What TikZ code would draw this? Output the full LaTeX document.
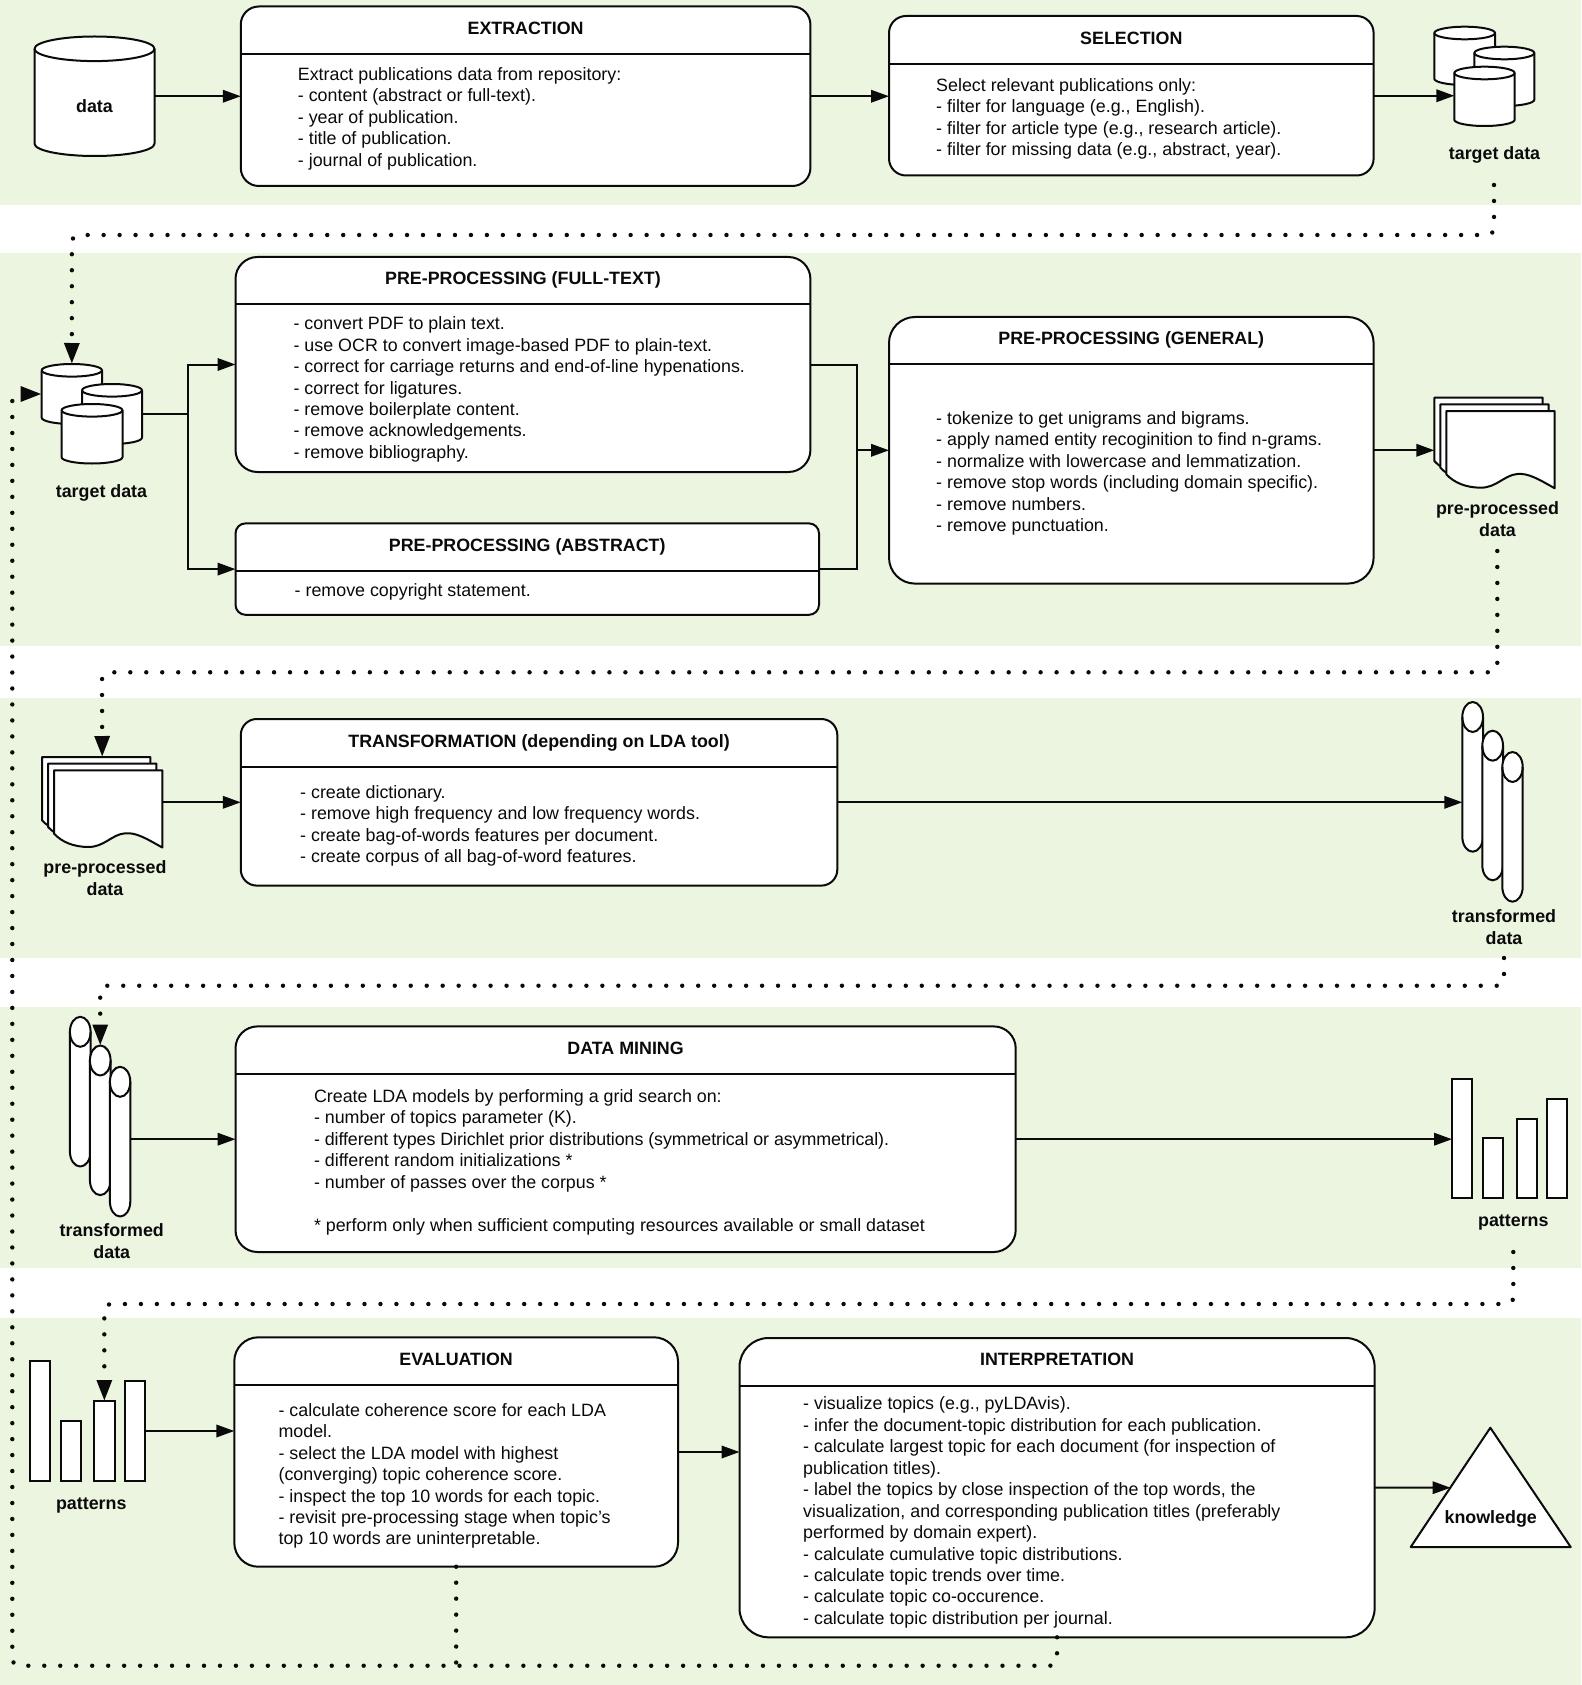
\documentclass[tikz,border=0pt]{standalone}
\usepackage{fontspec}
\setmainfont{Liberation Sans}
\usetikzlibrary{arrows.meta}
\definecolor{bandgreen}{HTML}{EBF5DF}
\definecolor{inkblack}{HTML}{0A0A0A}
\newcommand{\bodyfont}{\fontsize{17.85}{21.45}\selectfont}
\tikzset{
  band/.style={fill=bandgreen,draw=none},
  procbox/.style={draw=inkblack,fill=white,line width=2pt,inner sep=0pt,outer sep=0pt},
  hdrline/.style={draw=inkblack,line width=2pt},
  titletext/.style={font=\bodyfont\bfseries,text=inkblack,inner sep=0pt,anchor=center,align=center},
  bodytext/.style={font=\bodyfont,text=inkblack,inner sep=0pt,anchor=north west,align=left},
  labeltext/.style={font=\bodyfont\bfseries,text=inkblack,inner sep=0pt,anchor=center,align=center},
  iconline/.style={draw=inkblack,fill=white,line width=2pt,line join=round},
  anchorbox/.style={draw=none,fill=none,inner sep=0pt,outer sep=0pt},
  flow/.style={draw=inkblack,line width=2pt,-{Triangle[length=18pt,width=12.5pt]}},
  plainflow/.style={draw=inkblack,line width=2pt},
  dotflow/.style={draw=inkblack,line width=4.4pt,line cap=round,dash pattern=on 0pt off 15.97pt,rounded corners=7pt,-{Triangle[length=21pt,width=14.5pt]}},
  dotplain/.style={draw=inkblack,line width=4.4pt,line cap=round,dash pattern=on 0pt off 15.97pt,rounded corners=7pt},
}
% name, x1, y1, x2, y2, header y, radius, title, title y
\newcommand{\procnode}[9]{%
  \node[procbox,rounded corners=#7pt,minimum width={(#4-#2)*1pt},minimum height={(#5-#3)*1pt}] (#1) at ({(#2+#4)/2},{(#3+#5)/2}) {};
  \draw[hdrline] (#2,#6) -- (#4,#6);
  \node[titletext] (#1title) at ({(#2+#4)/2},#9) {#8};
}
% name, x, first line centre y, lines
\newcommand{\bodynode}[4]{%
  \node[bodytext] (#1body) at (#2,{#3-9.0}) {\strut #4};
}
% name, x1, y1, x2, y2, ry
\newcommand{\cylnode}[6]{%
  \draw[iconline] (#2,{#3+#6}) -- (#2,{#5-#6})
     arc[start angle=180,end angle=360,x radius={(#4-#2)/2*1pt},y radius=#6pt]
     -- (#4,{#3+#6})
     arc[start angle=0,end angle=180,x radius={(#4-#2)/2*1pt},y radius=#6pt];
  \draw[iconline,fill=none] (#2,{#3+#6}) arc[start angle=180,end angle=360,x radius={(#4-#2)/2*1pt},y radius=#6pt];
  \node[anchorbox,minimum width={(#4-#2)*1pt},minimum height={(#5-#3)*1pt}] (#1) at ({(#2+#4)/2},{(#3+#5)/2}) {};
}
% name, x, y of top-left
\newcommand{\sheetnode}[3]{%
  \begin{scope}[shift={(#2,#3)}]
    \draw[iconline] (0,0) -- (108.4,0) -- (108.4,77.3)
      .. controls (92,68) and (82,62) .. (71,63)
      .. controls (58,64) and (50,77) .. (34,76.7)
      .. controls (20,76.5) and (8,72) .. (0,63.3) -- cycle;
    \node[anchorbox,minimum width=108.4pt,minimum height=77pt] (#1) at (54.2,38.5) {};
  \end{scope}
}
% name, x1, y1, x2, y2
\newcommand{\barnode}[5]{%
  \node[procbox,minimum width={(#4-#2)*1pt},minimum height={(#5-#3)*1pt}] (#1) at ({(#2+#4)/2},{(#3+#5)/2}) {};
}
\begin{document}
\begin{tikzpicture}[x=1pt,y=-1pt]
\useasboundingbox (0,0) rectangle (1581,1685);
\fill[white] (0,0) rectangle (1581,1685);
% bands
\fill[band] (0,0) rectangle (1581,205);
\fill[band] (0,253) rectangle (1581,646);
\fill[band] (0,698) rectangle (1581,958);
\fill[band] (0,1007) rectangle (1581,1268);
\fill[band] (0,1318) rectangle (1581,1685);

% process boxes
\procnode{ext}{240.8}{6.5}{810.4}{186}{53.7}{18}{EXTRACTION}{28.7}
\bodynode{ext}{297.7}{74.2}{Extract publications data from repository:\\- content (abstract or full-text).\\- year of publication.\\- title of publication.\\- journal of publication.}

\procnode{sel}{889}{16}{1373.6}{175.5}{63.7}{17}{SELECTION}{38.4}
\bodynode{sel}{936}{85}{Select relevant publications only:\\- filter for language (e.g., English).\\- filter for article type (e.g., research article).\\- filter for missing data (e.g., abstract, year).}

\procnode{full}{235.5}{257}{810.4}{472}{304.3}{22}{PRE-PROCESSING (FULL-TEXT)}{280.2}
\bodynode{full}{293.4}{323.5}{- convert PDF to plain text.\\- use OCR to convert image-based PDF to plain-text.\\- correct for carriage returns and end-of-line hypenations.\\- correct for ligatures.\\- remove boilerplate content.\\- remove acknowledgements.\\- remove bibliography.}

\procnode{abs}{235.5}{523.4}{819}{614.8}{570.7}{10}{PRE-PROCESSING (ABSTRACT)}{546.8}
\bodynode{abs}{294.5}{590}{- remove copyright statement.}

\procnode{gen}{889}{317}{1373.6}{583.6}{364.4}{26}{PRE-PROCESSING (GENERAL)}{339.8}
\bodynode{gen}{936}{418}{- tokenize to get unigrams and bigrams.\\- apply named entity recoginition to find n-grams.\\- normalize with lowercase and lemmatization.\\- remove stop words (including domain specific).\\- remove numbers.\\- remove punctuation.}

\procnode{trans}{240.8}{719}{837.3}{885.6}{767.4}{16}{TRANSFORMATION (depending on LDA tool)}{742.5}
\bodynode{trans}{300}{792}{- create dictionary.\\- remove high frequency and low frequency words.\\- create bag-of-words features per document.\\- create corpus of all bag-of-word features.}

\procnode{mine}{235.5}{1026.4}{1015.7}{1252}{1073.7}{22}{DATA MINING}{1048}
\bodynode{mine}{313.8}{1096.3}{Create LDA models by performing a grid search on:\\- number of topics parameter (K).\\{\addfontfeature{LetterSpace=-0.48}- different types Dirichlet prior distributions (symmetrical or asymmetrical).}\\- different random initializations *\\- number of passes over the corpus *\\ \mbox{}\\* perform only when sufficient computing resources available or small dataset}

\procnode{eval}{234.3}{1337.3}{678}{1566.7}{1385.3}{24}{EVALUATION}{1359.6}
\bodynode{eval}{278.4}{1410}{- calculate coherence score for each LDA\\model.\\- select the LDA model with highest\\(converging) topic coherence score.\\- inspect the top 10 words for each topic.\\- revisit pre-processing stage when topic's\\top 10 words are uninterpretable.}

\procnode{interp}{739.5}{1338}{1374.6}{1637.3}{1385.5}{29}{INTERPRETATION}{1359.6}
\bodynode{interp}{803}{1403.7}{- visualize topics (e.g., pyLDAvis).\\- infer the document-topic distribution for each publication.\\- calculate largest topic for each document (for inspection of\\publication titles).\\- label the topics by close inspection of the top words, the\\visualization, and corresponding publication titles (preferably\\performed by domain expert).\\- calculate cumulative topic distributions.\\- calculate topic trends over time.\\- calculate topic co-occurence.\\- calculate topic distribution per journal.}

% data cylinder
\cylnode{data}{34.5}{36.5}{154.5}{156}{12.3}
\node[labeltext] (datalab) at (94.5,106) {data};

% target data, top right
\cylnode{tra}{1434.3}{26.7}{1495}{85}{6.3}
\cylnode{trb}{1474.3}{46.7}{1534.3}{106}{6.3}
\cylnode{trc}{1454.3}{66.7}{1514.7}{126}{6.3}
\node[labeltext] (trlab) at (1494.5,154.7) {target data};

% target data, left
\cylnode{tla}{41.7}{364}{102}{424}{6.3}
\cylnode{tlb}{82}{384}{142}{444}{6.3}
\cylnode{tlc}{61.6}{404}{122.5}{463.5}{6.3}
\node[labeltext] (tllab) at (101.5,492.5) {target data};

% pre-processed data stacks
\sheetnode{pra}{1434.3}{397.7}
\sheetnode{prb}{1440.3}{404.3}
\sheetnode{prc}{1446.3}{411}
\node[labeltext] (prlab) at (1497.5,519) {pre-processed\\[0pt]data};

\sheetnode{pla}{42}{757}
\sheetnode{plb}{48}{763.6}
\sheetnode{plc}{54}{770.3}
\node[labeltext] (pllab) at (105,878) {pre-processed\\[0pt]data};

% transformed data stacks
\cylnode{ora}{1462.3}{702}{1483}{851.7}{15}
\cylnode{orb}{1482.3}{730.7}{1503}{880.3}{15}
\cylnode{orc}{1502.3}{752}{1522.7}{901.7}{15}
\node[labeltext] (orlab) at (1504,927) {transformed\\[0pt]data};

\cylnode{ola}{69.9}{1016.8}{90.6}{1166.5}{15}
\cylnode{olb}{89.9}{1045.5}{110.6}{1195.1}{15}
\cylnode{olc}{109.9}{1066.8}{130.3}{1216.5}{15}
\node[labeltext] (ollab) at (111.8,1241) {transformed\\[0pt]data};

% patterns bars
\barnode{bra}{1452}{1079}{1472.2}{1197.5}
\barnode{brb}{1483}{1138.2}{1503}{1197.5}
\barnode{brc}{1516.7}{1119}{1536.7}{1197.5}
\barnode{brd}{1547}{1099}{1567}{1197.5}
\node[labeltext] (brlab) at (1513.3,1222.5) {patterns};

\barnode{bla}{29.8}{1361}{50.3}{1481}
\barnode{blb}{60.6}{1420.7}{80.9}{1481}
\barnode{blc}{94}{1401}{114.7}{1481}
\barnode{bld}{125}{1381}{145.3}{1481}
\node[labeltext] (bllab) at (91.3,1505.5) {patterns};

% knowledge triangle
\draw[iconline] (1490.3,1427.7) -- (1570.7,1547) -- (1410.7,1547) -- cycle;
\coordinate (knowin) at (1450.5,1487.7);
\node[labeltext] (knowlab) at (1490.7,1519) {knowledge};

% solid connectors
\draw[flow] (data) ++(60,0) -- (ext.west);
\draw[flow] (ext.east) -- (ext.east -| sel.west);
\draw[flow] (sel.east) -- (sel.east -| trc.west);
\coordinate (split) at (188.4,414);
\coordinate (merge) at (856.6,450.3);
\draw[plainflow] (tlb.east |- split) -- (split);
\draw[flow] (split) |- (full.west);
\draw[flow] (split) |- (abs.west);
\draw[flow] (full.east) -| (merge) -- (gen.west);
\draw[plainflow] (abs.east) -| (merge);
\draw[flow] (gen.east) -- (gen.east -| pra.west);
\draw[flow] (trans.west -| plc.east) -- (trans.west);
\draw[flow] (trans.east) -- (trans.east -| ora.west);
\draw[flow] (mine.west -| olc.east) -- (mine.west);
\draw[flow] (mine.east) -- (mine.east -| bra.west);
\draw[flow] (bld.east) -- (bld.east -| eval.west);
\draw[flow] (eval.east) -- (eval.east -| interp.west);
\draw[flow] (interp.east) -- (knowin);

% dotted connectors
\coordinate (da) at (1494,185);
\coordinate (db) at (1494,235);
\coordinate (dc) at (71.9,235);
\draw[dotflow] (da) -- (db) -- (dc) -- (tla.north);
\coordinate (ea) at (1497.3,551);
\coordinate (eb) at (1497.3,672.3);
\coordinate (ec) at (102,672.3);
\draw[dotflow] (ea) -- (eb) -- (ec) -- (plb.north |- pla.north);
\coordinate (fa) at (1504,958);
\coordinate (fb) at (1504,985.7);
\coordinate (fc) at (100.2,985.7);
\draw[dotflow] (fa) -- (fb) -- (fc) -- (olb.north);
\coordinate (ga) at (1513.3,1252);
\coordinate (gb) at (1513.3,1304);
\coordinate (gc) at (104.3,1304);
\draw[dotflow] (ga) -- (gb) -- (gc) -- (blc.north);
\coordinate (ha) at (1057,1665.7);
\coordinate (hb) at (12.3,1665.7);
\coordinate (hc) at (12.3,394);
\draw[dotflow] (interp.south) -- (ha) -- (hb) -- (hc) -- (tla.west);
\draw[dotplain] (eval.south) -- (eval.south |- ha);
\end{tikzpicture}
\end{document}
